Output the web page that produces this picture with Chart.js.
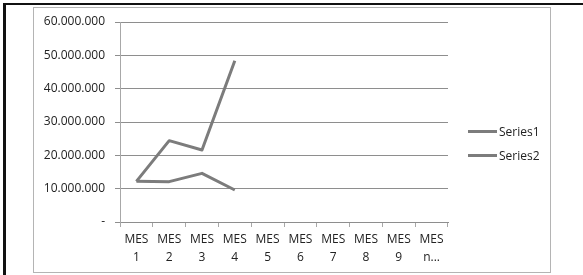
<!DOCTYPE html>
<html>
<head>
<meta charset="utf-8">
<script src="https://cdn.jsdelivr.net/npm/chart.js@4"></script>
<style>
    body { margin: 0; background: #fff; font-family: 'Open Sans', sans-serif; }
    #wrap { position: relative; width: 583px; height: 275px; overflow: hidden; }
    .frame { position: absolute; left: 3px; top: 3px; width: 590px; height: 280px;
             border-top: 2px solid #111; border-left: 3px solid #111; }
    .box { position: absolute; left: 33px; top: 7px; width: 516px; height: 264px;
           border: 1px solid #b4b4b4; }
    canvas { position: absolute; left: 0; top: 0; }
    #legend { position: absolute; left: 468px; top: 119px; font-size: 12px; color: #222; }
    #legend div { display: flex; align-items: center; height: 24px; }
    #legend span.line { display: inline-block; width: 29px; height: 3px; margin-right: 2px; }
</style>
</head>
<body>
<div id="wrap">
    <div class="frame"></div>
    <div class="box"></div>
    <canvas id="chart" width="583" height="275"></canvas>
    <div id="legend"></div>
</div>
<script>
// categorías (meses)
const months = [
    ['MES', '1'], ['MES', '2'], ['MES', '3'], ['MES', '4'], ['MES', '5'],
    ['MES', '6'], ['MES', '7'], ['MES', '8'], ['MES', '9'], ['MES', 'n...']
];

// valores
const series1 = [12200000, 24400000, 21600000, 48400000];
const series2 = [12200000, 12100000, 14600000, 9600000];

const seriesNames = ['Series1', 'Series2'];
const yMax = 60000000;
const yStep = 10000000;

const lineColor = '#7c7c7c';
const gridColor = '#8e8e8e';

// 60000000 -> 60.000.000
function formatDots(value) {
    if (value === 0) return '-';
    return String(value).replace(/\B(?=(\d{3})+(?!\d))/g, '.');
}

function makeDataset(label, data) {
    return {
        label,
        data,
        borderColor: lineColor,
        backgroundColor: lineColor,
        borderWidth: 3,
        pointRadius: 0,
        tension: 0,
        borderJoinStyle: 'round',
        fill: false
    };
}

const chart = new Chart(document.getElementById('chart'), {
    type: 'line',
    data: {
        labels: months,
        datasets: [
            makeDataset(seriesNames[0], series1),
            makeDataset(seriesNames[1], series2)
        ]
    },
    options: {
        responsive: false,
        animation: false,
        layout: { padding: { left: 0, top: 22, right: 135, bottom: 0 } },
        plugins: {
            legend: { display: false },
            tooltip: { enabled: false }
        },
        scales: {
            x: {
                offset: true,
                grid: {
                    offset: true,
                    drawOnChartArea: false,
                    drawTicks: true,
                    tickLength: 5,
                    color: '#a8a8a8'
                },
                border: { color: gridColor },
                ticks: {
                    color: '#222',
                    padding: 4,
                    maxRotation: 0,
                    autoSkip: false,
                    font: { family: 'Open Sans', size: 12, lineHeight: 1.5 }
                },
                afterFit: (scale) => { scale.height = 53; }
            },
            y: {
                min: 0,
                max: yMax,
                ticks: {
                    stepSize: yStep,
                    color: '#222',
                    padding: 10,
                    font: { family: 'Open Sans', size: 12 },
                    callback: (value) => formatDots(value)
                },
                grid: {
                    color: gridColor,
                    tickLength: 5,
                    drawTicks: true
                },
                border: { color: '#a8a8a8' },
                afterFit: (scale) => { scale.width = 120; }
            }
        }
    }
});

// leyenda en HTML
document.getElementById('legend').innerHTML = chart.data.datasets.map(ds => `
    <div><span class="line" style="background:${ds.borderColor}"></span>${ds.label}</div>
`).join('');
</script>
</body>
</html>
